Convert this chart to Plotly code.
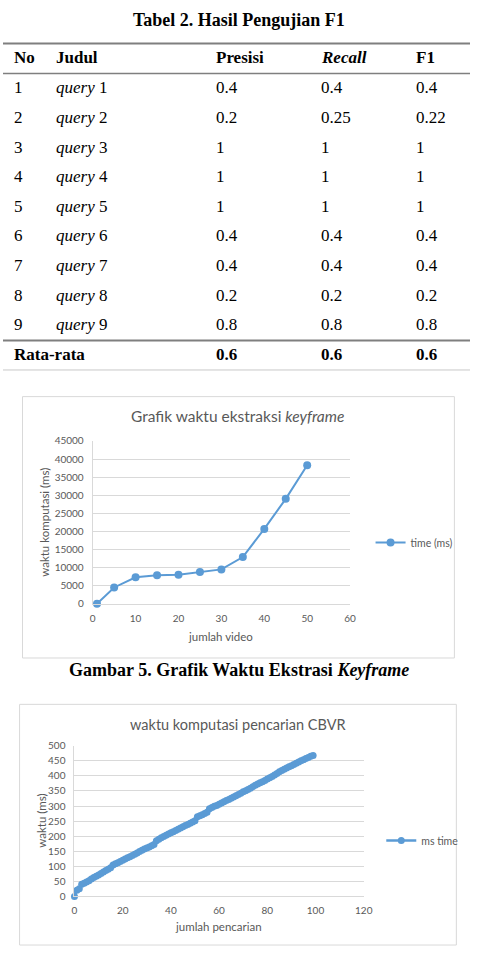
import plotly.graph_objects as go

W, H = 479, 953


def px(x):
    return x / W


def py(y):
    return 1 - y / H


# ---------------- data ----------------
table_title = "Tabel 2. Hasil Pengujian F1"
col_headers = ["No", "Judul", "Presisi", "Recall", "F1"]
row_no = ["1", "2", "3", "4", "5", "6", "7", "8", "9"]
row_query = [1, 2, 3, 4, 5, 6, 7, 8, 9]
presisi = [0.4, 0.2, 1, 1, 1, 0.4, 0.4, 0.2, 0.8]
recall = [0.4, 0.25, 1, 1, 1, 0.4, 0.4, 0.2, 0.8]
f1 = [0.4, 0.22, 1, 1, 1, 0.4, 0.4, 0.2, 0.8]
avg_label = "Rata-rata"
avg_presisi, avg_recall, avg_f1 = 0.6, 0.6, 0.6

chart1_title = "Grafik waktu ekstraksi <i>keyframe</i>"
chart1_xtitle = "jumlah video"
chart1_ytitle = "waktu komputasi (ms)"
chart1_series = "time (ms)"
video_count = [1, 5, 10, 15, 20, 25, 30, 35, 40, 45, 50]
extract_time = [0, 4500, 7300, 7900, 8000, 8800, 9500, 12900, 20700, 29000, 38300]
caption1 = "<b>Gambar 5. Grafik Waktu Ekstrasi <i>Keyframe</i></b>"

chart2_title = "waktu komputasi pencarian CBVR"
chart2_xtitle = "jumlah pencarian"
chart2_ytitle = "waktu (ms)"
chart2_series = "ms time"
search_count = [0, 1, 2, 3, 4, 5, 6, 7, 8, 9, 10, 11, 12, 13, 14, 15, 16, 17, 18, 19,
                20, 21, 22, 23, 24, 25, 26, 27, 28, 29, 30, 31, 32, 33, 34, 35, 36, 37, 38, 39,
                40, 41, 42, 43, 44, 45, 46, 47, 48, 49, 50, 51, 52, 53, 54, 55, 56, 57, 58, 59,
                60, 61, 62, 63, 64, 65, 66, 67, 68, 69, 70, 71, 72, 73, 74, 75, 76, 77, 78, 79,
                80, 81, 82, 83, 84, 85, 86, 87, 88, 89, 90, 91, 92, 93, 94, 95, 96, 97, 98, 99]
search_time = [0, 20, 25, 40, 44, 48, 52, 58, 63, 67, 71, 76, 81, 86, 90, 95, 104, 108, 112, 116,
               120, 124, 128, 132, 136, 140, 144, 149, 153, 157, 161, 164, 168, 172, 185, 190, 195, 199, 203, 207,
               211, 215, 219, 223, 227, 231, 235, 239, 243, 247, 251, 264, 268, 271, 275, 279, 291, 295, 299, 302,
               306, 310, 314, 318, 322, 326, 330, 334, 338, 342, 347, 351, 355, 359, 364, 369, 373, 377, 381, 385,
               390, 394, 398, 403, 408, 414, 418, 422, 426, 430, 434, 438, 442, 446, 450, 454, 458, 461, 465, 468]

# ---------------- styles ----------------
SERIF = "Liberation Serif"
SANS = "Lato"
BLUE = "#5b9bd5"
GRAY = "#595959"
GRID = "#d9d9d9"


def fmt(v):
    return f"{v:g}"


fig = go.Figure()

# ---------------- chart 1 ----------------
fig.add_trace(go.Scatter(
    x=video_count, y=extract_time, mode="lines+markers", name=chart1_series,
    line=dict(color=BLUE, width=2), marker=dict(color=BLUE, size=8),
    cliponaxis=False, xaxis="x", yaxis="y", legend="legend",
))

# ---------------- chart 2 ----------------
fig.add_trace(go.Scatter(
    x=search_count, y=search_time, mode="lines+markers", name=chart2_series,
    line=dict(color=BLUE, width=2.5), marker=dict(color=BLUE, size=7),
    cliponaxis=False, xaxis="x2", yaxis="y2", legend="legend2",
))

tickfont = dict(family=SANS, size=10, color=GRAY)
axis_common = dict(showline=True, linecolor=GRID, linewidth=1, zeroline=False,
                   tickfont=tickfont, ticks="", fixedrange=True)

fig.update_layout(
    width=W, height=H, margin=dict(l=0, r=0, t=0, b=0),
    paper_bgcolor="white", plot_bgcolor="white",
    xaxis=dict(domain=[px(92), px(356)], range=[0, 60], dtick=10, showgrid=False,
               anchor="y", ticklabelstandoff=5, **axis_common),
    yaxis=dict(domain=[py(605), py(440)], range=[0, 45000], dtick=5000, tickformat="d",
               showgrid=True, gridcolor=GRID, anchor="x", ticklabelstandoff=6, **axis_common),
    xaxis2=dict(domain=[px(73.3), px(370)], range=[0, 120], dtick=20, showgrid=False,
                anchor="y2", ticklabelstandoff=5, **axis_common),
    yaxis2=dict(domain=[py(901.7), py(749)], range=[0, 500], dtick=50, tickformat="d",
                showgrid=True, gridcolor=GRID, anchor="x2", ticklabelstandoff=6, **axis_common),
    legend=dict(x=px(377), y=py(543), xanchor="left", yanchor="middle",
                font=dict(family=SANS, size=10.5, color=GRAY), bgcolor="rgba(0,0,0,0)"),
    legend2=dict(x=px(388), y=py(845), xanchor="left", yanchor="middle",
                 font=dict(family=SANS, size=10.5, color=GRAY), bgcolor="rgba(0,0,0,0)"),
    showlegend=True,
)

ann = []


def text(x, y, s, size, family, color, angle=0, anchor="center"):
    ann.append(dict(x=px(x), y=py(y), xref="paper", yref="paper", text=s, showarrow=False,
                    xanchor=anchor, yanchor="middle", textangle=angle,
                    font=dict(family=family, size=size, color=color)))


# ---------------- table (built from the arrays above) ----------------
col_x = [9, 52, 216, 324, 422]
header_y = 51
row_y0 = 82
row_step = 30
avg_y = 352
header_txt = ["<b>No</b>", "<b>Judul</b>", "<b>Presisi</b>", "<b><i>Recall</i></b>", "<b>F1</b>"]
for cx, h in zip(col_x, header_txt):
    text(cx, header_y, h, 17, SERIF, "black", anchor="left")
columns = [row_no,
           [f"<i>query</i> {q}" for q in row_query],
           [fmt(v) for v in presisi],
           [fmt(v) for v in recall],
           [fmt(v) for v in f1]]
for cx, col in zip(col_x, columns):
    for i, v in enumerate(col):
        text(cx, row_y0 + i * row_step, v, 17, SERIF, "black", anchor="left")
avg_row = [f"<b>{avg_label}</b>", f"<b>{fmt(avg_presisi)}</b>",
           f"<b>{fmt(avg_recall)}</b>", f"<b>{fmt(avg_f1)}</b>"]
for cx, v in zip([col_x[0]] + col_x[2:], avg_row):
    text(cx, avg_y, v, 17, SERIF, "black", anchor="left")

text(242, 13, f"<b>{table_title}</b>", 18, SERIF, "black")
text(241, 415, chart1_title, 15.5, SANS, GRAY)
text(223, 638, chart1_xtitle, 11.5, SANS, GRAY)
text(43, 522, chart1_ytitle, 11.5, SANS, GRAY, -90)
text(242, 672, caption1, 18, SERIF, "black")
text(241, 727, chart2_title, 14.5, SANS, GRAY)
text(221, 932, chart2_xtitle, 11.5, SANS, GRAY)
text(40, 825, chart2_ytitle, 11.5, SANS, GRAY, -90)
fig.update_layout(annotations=ann)

shapes = []


def hline(y, w, color):
    shapes.append(dict(type="line", xref="paper", yref="paper", x0=0, x1=1, y0=py(y), y1=py(y),
                       line=dict(color=color, width=w)))


hline(37, 2, "#7f7f7f")
hline(67.5, 1.5, "#7f7f7f")
hline(338, 2, "#7f7f7f")
hline(368, 1, "#c8c8c8")


def box(x0, y0, x1, y1):
    shapes.append(dict(type="rect", xref="paper", yref="paper", x0=px(x0), x1=px(x1),
                       y0=py(y1), y1=py(y0), line=dict(color=GRID, width=1), layer="below"))


box(20, 395, 463, 660)
box(17, 707, 465, 951)
fig.update_layout(shapes=shapes)

fig.write_html("out.html", config={"displayModeBar": False})
